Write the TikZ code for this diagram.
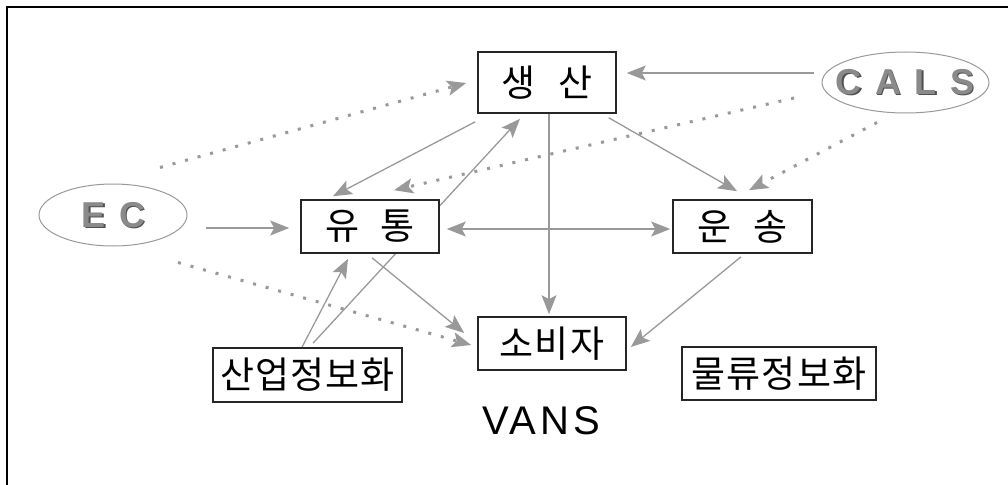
\documentclass[tikz,border=0pt]{standalone}
\usepackage{fontspec}
\setmainfont{Liberation Sans}
\newfontfamily\kr[LetterSpace=3]{Noto Sans CJK KR}
\newfontfamily\vansfont[LetterSpace=10]{Liberation Sans}
\newfontfamily\logofont[LetterSpace=10]{Liberation Sans Bold}
\usetikzlibrary{arrows.meta,shapes.geometric,backgrounds}
\definecolor{linegray}{RGB}{153,153,153}
\definecolor{facegray}{RGB}{138,138,138}
\definecolor{shadegray}{RGB}{80,80,80}

\begin{document}
\begin{tikzpicture}[x=1pt,y=-1pt,
        box/.style={draw=black!85,line width=1.6pt,fill=white,inner sep=0pt,
                    font=\kr\fontsize{37}{37}\selectfont},
        oval/.style={ellipse,draw=linegray,line width=1pt,inner sep=0pt},
        logo/.style={font=\logofont\fontsize{36}{36}\selectfont,inner sep=0pt},
        arr/.style={draw=linegray,line width=1.3pt,
                    -{Stealth[length=19pt,width=15pt,inset=4pt]}},
        dots/.style={arr,line width=3pt,dash pattern=on 3pt off 10pt},
        both/.style={arr,{Stealth[length=19pt,width=15pt,inset=4pt]}-{Stealth[length=19pt,width=15pt,inset=4pt]}}
      ]
      \useasboundingbox (0,0) rectangle (1008,484);
      % the frame
      \draw[line width=2pt] (7,7) rectangle (1020,500);

      % the boxes
      \node[box,minimum width=138pt,minimum height=61pt] (sang) at (547,82.5) {생\hspace{23pt}산};
      \node[box,minimum width=138pt,minimum height=53pt] (yu) at (370,226.5) {유\hspace{21pt}통};
      \node[box,minimum width=139pt,minimum height=53pt] (un) at (742.5,226.5) {운\hspace{22pt}송};
      \node[box,minimum width=148pt,minimum height=53pt] (so) at (552,343.5) {소비자};
      \node[box,minimum width=189pt,minimum height=54pt] (san) at (307.5,375) {산업정보화};
      \node[box,minimum width=194pt,minimum height=53pt] (mul) at (779,373.5) {물류정보화};
      \node[inner sep=0pt,font=\vansfont\fontsize{40}{40}\selectfont] (vans) at (541,421) {VANS};

      % the ovals
      \node[oval,minimum width=148pt,minimum height=62pt] (ec) at (113,215) {};
      \node[oval,minimum width=167pt,minimum height=61pt] (cals) at (905.5,82.5) {};
      \node[logo,shadegray] at (115,216.5) {E C};
      \node[logo,facegray] (ectext) at (113.5,215) {E C};
      \node[logo,shadegray] at (906.5,83.5) {C A L S};
      \node[logo,facegray] (calstext) at (905,82) {C A L S};

      % the connectors
      \begin{scope}[on background layer]
        \draw[arr] ([shift={(-8,-9.5)}]cals.west) -- ([shift={(10,-9.5)}]sang.east);
        \draw[dots] ([shift={(-111.5,15.5)}]cals.center) -- ([shift={(24,-9)}]yu.north);
        \draw[dots] ([shift={(-28.5,9)}]cals.south) -- ([shift={(6.5,-9)}]un.north);
        \draw[arr] ([shift={(-8,4)}]sang.south east) -- ([shift={(-5.5,-8)}]un.north);
        \draw[arr] ([shift={(-2,8)}]sang.south west) -- ([shift={(-37,-3)}]yu.north);
        \draw[dots] ([shift={(47,-16)}]ec.north) -- ([shift={(-11,0.5)}]sang.west);
        \draw[arr] ([shift={(5.5,-4)}]san.north) -- ([shift={(-27,5)}]sang.south);
        \draw[arr] ([shift={(18,13)}]ec.east) -- ([shift={(-11,1.5)}]yu.west);
        \draw[both] ([shift={(7,2.5)}]yu.east) -- ([shift={(-2,2.5)}]un.west);
        \draw[arr] ([shift={(2,0)}]sang.south) -- ([shift={(-3,-2)}]so.north);
        \draw[arr] ([shift={(2,4)}]yu.south) -- ([shift={(-13,-10.5)}]so.west);
        \draw[dots] ([shift={(65,16)}]ec.south) -- ([shift={(-6,1.5)}]so.west);
        \draw[arr] ([shift={(-1.5,3)}]un.south) -- ([shift={(4,3.5)}]so.east);
        \draw[arr] ([shift={(-5.5,0)}]san.north) -- ([shift={(-22,5)}]yu.south);
      \end{scope}
 \end{tikzpicture}
\end{document}
